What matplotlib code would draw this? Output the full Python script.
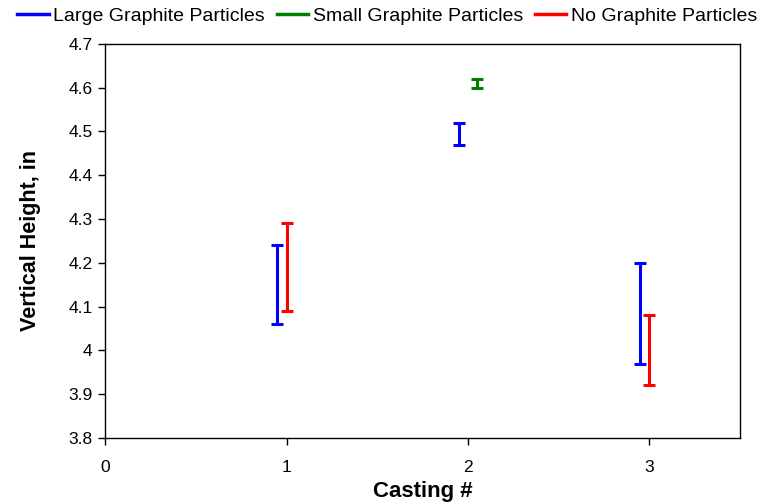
import matplotlib
matplotlib.use("Agg")
import matplotlib.pyplot as plt
from matplotlib.lines import Line2D
import numpy as np

plt.rcParams['font.family'] = ['Liberation Sans', 'DejaVu Sans']

# Height ranges (low / high) per casting for each particle group
large_x = [1, 2, 3]
large_low = [4.06, 4.47, 3.97]
large_high = [4.24, 4.52, 4.20]

small_x = [2]
small_low = [4.60]
small_high = [4.62]

none_x = [1, 3]
none_low = [4.09, 3.92]
none_high = [4.29, 4.08]

series = [
    ("Large Graphite Particles", large_x, large_low, large_high, "#0000FF", -0.05),
    ("Small Graphite Particles", small_x, small_low, small_high, "#008000", 0.05),
    ("No Graphite Particles", none_x, none_low, none_high, "#FF0000", 0.0),
]

x_ticks = [0, 1, 2, 3]
y_ticks = [3.8, 3.9, 4.0, 4.1, 4.2, 4.3, 4.4, 4.5, 4.6, 4.7]
y_tick_labels = ["3.8", "3.9", "4", "4.1", "4.2", "4.3", "4.4", "4.5", "4.6", "4.7"]

fig = plt.figure(figsize=(7.62, 5.04), dpi=100)
ax = fig.add_axes([0.138, 0.131, 0.833, 0.782])

handles = []
for name, xs, lo, hi, color, off in series:
    xs = np.array(xs, dtype=float) + off
    lo = np.array(lo)
    hi = np.array(hi)
    mid = (lo + hi) / 2
    half = (hi - lo) / 2
    ax.errorbar(xs, mid, yerr=half, fmt='none', ecolor=color,
                elinewidth=2.2, capsize=4.5, capthick=2.2)
    handles.append(Line2D([0], [0], color=color, lw=2.5, label=name))

ax.set_xlim(0, 3.5)
ax.set_ylim(3.8, 4.7)
ax.set_xticks(x_ticks)
ax.set_xticklabels([str(t) for t in x_ticks])
ax.set_yticks(y_ticks)
ax.set_yticklabels(y_tick_labels)
ax.tick_params(axis='both', labelsize=12.5, direction='out', length=5, width=1,
               color='black')
ax.tick_params(axis='x', pad=11)
ax.tick_params(axis='y', pad=4)
for s in ax.spines.values():
    s.set_linewidth(1.0)
    s.set_color('black')

ax.set_xlabel("Casting #", fontsize=16, fontweight='bold', labelpad=4)
ax.set_ylabel("Vertical Height, in", fontsize=15.5, fontweight='bold', labelpad=20)

fig.legend(handles=handles, loc='upper center', bbox_to_anchor=(0.508, 1.02),
           ncol=3, frameon=False, fontsize=14, handlelength=1.6,
           handletextpad=0.25, columnspacing=0.6)

fig.savefig("out.png", dpi=100)
